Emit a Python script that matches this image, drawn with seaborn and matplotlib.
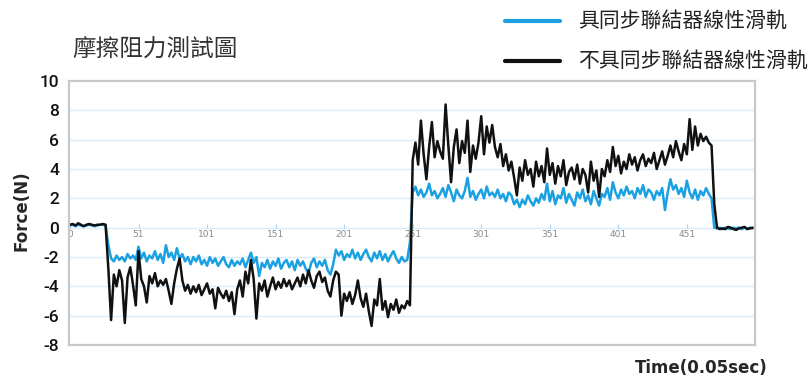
import numpy as np
import pandas as pd
import seaborn as sns
import matplotlib.pyplot as plt
from matplotlib.lines import Line2D

# sample number (every 2nd sample, 0.05 sec steps)
samples = np.arange(1, 501, 2)

# force readings, with synchronous linker
force_sync = [
    0.15, 0.2, 0.1, 0.2, 0.15, 0.1, 0.15, 0.2, 0.15, 0.1, 0.15, 0.2, 0.2, 0.15,
    -1.2,
    -2.1, -2.3, -1.9, -2.2, -2.0, -2.3, -1.8, -2.1, -1.9, -2.2,
    -1.3, -2.1, -1.7, -2.3, -1.9, -2.1, -1.6, -2.2, -1.8, -2.4,
    -1.2, -2.0, -1.7, -2.2, -1.4, -2.1, -1.8, -2.3, -2.0, -2.5,
    -2.0, -2.3, -1.9, -2.5, -2.2, -2.6, -2.0, -2.4, -2.1, -2.6,
    -2.3, -2.0, -2.5, -2.7, -2.2, -2.6, -2.3, -2.5, -2.1, -2.7,
    -2.2, -1.7, -2.4, -2.0, -3.3, -2.4, -2.7, -2.2, -2.8, -2.3,
    -2.6, -2.1, -2.8, -2.4, -2.2, -2.7, -2.3, -2.9, -2.2, -2.6,
    -2.3, -2.8, -3.1, -2.4, -2.1, -2.7, -2.3, -2.6, -2.2, -2.9,
    -3.2, -2.5, -1.5, -1.9, -1.6, -2.2, -1.8, -2.0, -1.5, -2.1,
    -1.7, -2.2, -1.8, -1.5, -2.0, -2.3, -1.7, -2.1, -1.6, -2.2,
    -1.8, -2.3, -1.9, -1.6, -2.1, -2.4, -2.0, -2.3, -2.2, -1.0,
    2.4, 2.8, 2.2, 2.6, 2.1, 2.4, 3.0, 2.2, 2.5, 2.0,
    2.3, 2.7, 2.1, 2.9, 2.4, 1.8, 2.6, 2.2, 2.0, 2.5,
    3.4, 2.1, 2.5, 1.9, 2.3, 2.6, 2.0, 2.8, 2.2, 2.4,
    2.1, 2.6, 2.0, 2.3, 1.8, 2.4, 2.2, 1.6, 1.9, 1.4,
    1.9, 1.6, 2.2, 1.8, 1.5, 2.0, 1.7, 2.3, 1.9, 3.0,
    1.8, 2.5, 1.6, 2.2, 2.0, 2.7, 1.7, 2.3, 1.9, 1.5,
    2.4, 2.0, 2.6, 1.8, 2.2, 1.6, 2.5, 2.0, 1.5, 2.3,
    2.1, 2.7, 1.9, 3.1, 2.4, 2.0, 2.6, 2.2, 2.8, 2.3,
    2.5, 2.0, 2.7, 2.3, 2.9, 2.1, 2.6, 2.4, 1.9, 2.5,
    2.2, 2.7, 1.2, 2.4, 3.3, 2.6, 2.9, 2.3, 2.7, 2.1,
    3.2, 2.4, 2.0, 2.6, 1.9, 2.5, 2.2, 2.7, 2.3, 2.0,
    0.0, -0.05, 0.0, -0.1, 0.0, -0.05, -0.1, 0.0, -0.05, 0.0, -0.1, 0.0, -0.05, 0.0, -0.05,
]

# force readings, without synchronous linker
force_plain = [
    0.2, 0.25, 0.15, 0.3, 0.2, 0.1, 0.2, 0.25, 0.2, 0.15, 0.2, 0.2, 0.25, 0.2,
    -2.8,
    -6.3, -3.2, -4.0, -2.9, -3.6, -6.5, -3.4, -2.7, -3.9, -5.3,
    -1.6, -3.5, -4.0, -5.1, -3.3, -3.8, -3.1, -4.0, -3.6, -3.9,
    -3.5, -4.3, -5.2, -3.8, -2.8, -2.1, -3.6, -4.3, -3.9, -4.5,
    -4.0, -4.4, -3.9, -4.6, -4.2, -3.8, -4.5, -4.2, -5.5, -4.1,
    -4.5, -4.8, -4.3, -5.0, -4.4, -5.9, -4.2, -3.6, -4.7, -3.0,
    -3.8, -2.2, -3.5, -6.2, -3.8, -4.3, -3.6, -4.7, -4.0, -3.4,
    -4.2, -3.7, -4.1, -3.5, -4.0, -3.6, -4.2, -3.8, -3.4, -4.0,
    -3.2, -3.8, -2.9, -3.6, -4.1, -3.3, -3.0, -3.7, -3.4, -4.3,
    -4.7, -3.6, -3.0, -3.2, -6.0, -4.5, -5.0, -4.4, -5.2, -4.6,
    -3.6, -4.8, -5.4, -4.5, -5.7, -6.7, -4.9, -5.3, -3.5, -5.6,
    -5.0, -6.1, -5.2, -5.6, -4.9, -5.8, -5.3, -5.5, -5.0, -5.3,
    4.6, 5.8, 4.3, 7.3, 5.0, 3.3, 5.5, 7.2, 4.8, 5.9,
    5.2, 4.7, 8.4, 5.6, 3.1, 5.5, 6.7, 4.4, 5.9, 5.1,
    7.3, 3.8, 5.6, 4.7, 5.8, 7.6, 5.0, 6.9, 5.8, 7.0,
    5.5, 4.8, 5.7, 4.2, 5.0, 3.9, 4.5, 3.4, 2.2, 4.1,
    3.2, 4.6, 3.6, 4.0, 2.8, 4.5, 3.5, 4.2, 3.1, 5.4,
    3.6, 4.4, 3.0, 4.2, 3.5, 4.6, 2.9, 3.8, 4.1, 3.3,
    4.3, 3.0, 4.0, 3.6, 2.4, 4.5, 3.2, 3.9, 2.1, 4.0,
    3.5, 4.6, 3.8, 5.5, 4.2, 4.9, 3.7, 4.5, 4.0, 5.0,
    4.3, 4.8, 3.9, 4.6, 5.0, 4.2, 4.7, 4.4, 5.1, 4.0,
    4.6, 5.2, 4.3, 4.9, 5.6, 4.8, 5.9, 5.2, 4.6, 5.7,
    5.0, 7.4, 5.3, 6.9, 5.6, 6.4, 5.9, 6.2, 5.8, 5.6,
    1.6, 0.0, -0.1, -0.05, -0.1, 0.05, 0.0, -0.1, -0.15, -0.05, 0.0, 0.05, -0.1, -0.05, 0.0,
]

series_names = ["具同步聯結器線性滑軌", "不具同步聯結器線性滑軌"]
series_colors = ["#1ba1e2", "#111111"]
x_ticks = [1, 51, 101, 151, 201, 251, 301, 351, 401, 451]
x_tick_labels = ["0", "51", "101", "151", "201", "251", "301", "351", "401", "451"]

df = pd.DataFrame({
    "sample": np.concatenate([samples, samples]),
    "force": force_sync + force_plain,
    "series": [series_names[0]] * len(samples) + [series_names[1]] * len(samples),
})

sns.set_style("white")
plt.rcParams["font.family"] = ["Noto Sans CJK TC", "DejaVu Sans"]

W, H = 812, 380
fig = plt.figure(figsize=(W / 100, H / 100), dpi=100)
ax = fig.add_axes([69 / W, 35 / H, 686 / W, 264 / H])

sns.lineplot(data=df, x="sample", y="force", hue="series", hue_order=series_names,
             palette=dict(zip(series_names, series_colors)), linewidth=1.8,
             legend=False, ax=ax)

ax.set_xlim(0.3, 500.7)
ax.set_ylim(-8, 10)
ax.set_yticks(range(-8, 11, 2))
ax.set_yticklabels([str(v) for v in range(-8, 11, 2)],
                   family="Roboto", fontweight="medium", fontsize=12.5, color="#111111")
ax.tick_params(axis="y", length=0, pad=7)
ax.set_xticks([])
ax.set_xlabel("")
ax.set_ylabel("")
for v in range(-6, 10, 2):
    ax.axhline(v, color="#dcecf9", lw=1, zorder=0)
for s in ax.spines.values():
    s.set_color("#c8c8c8")
    s.set_linewidth(1.6)

# category labels sit on the zero line
sec = ax.secondary_xaxis(8 / 18)
sec.set_xticks(x_ticks)
sec.set_xticklabels(x_tick_labels, fontsize=6.5, color="#8a8a8a", family="DejaVu Sans")
sec.tick_params(direction="in", length=3, color="#a8d4f2", pad=2)
sec.spines["bottom"].set_visible(False)

fig.text(22 / W, 1 - 211 / H, "Force(N)", rotation=90, ha="center", va="center",
         fontsize=12, fontweight="bold", family="DejaVu Sans")
fig.text(768 / W, 1 - 368 / H, "Time(0.05sec)", ha="right", va="center",
         fontsize=12, fontweight="bold", family="DejaVu Sans")
fig.text(72 / W, 1 - 50 / H, "摩擦阻力測試圖", ha="left", va="center",
         fontsize=17, color="#333333")

# legend in the top right
for name, color, yc in zip(series_names, series_colors, [21, 61]):
    fig.add_artist(Line2D([505 / W, 560 / W], [1 - yc / H, 1 - yc / H],
                          color=color, lw=3, transform=fig.transFigure))
    fig.text(578 / W, 1 - yc / H, name, ha="left", va="center", fontsize=15, color="#222222")

fig.savefig("out.png", dpi=100)
